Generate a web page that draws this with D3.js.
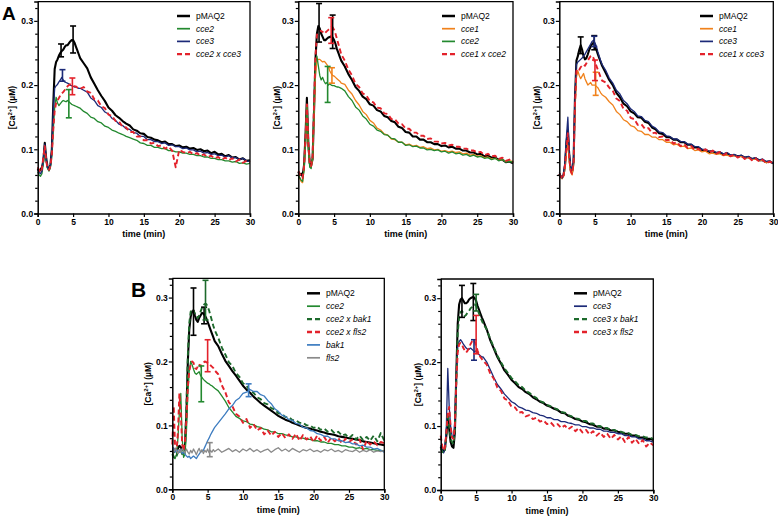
<!DOCTYPE html>
<html><head><meta charset="utf-8">
<script src="https://cdn.jsdelivr.net/npm/d3@7"></script>
<style>body{margin:0;background:#fff}svg{display:block}text{font-family:"Liberation Sans",Arial,sans-serif}</style>
</head><body><svg id="c" width="778" height="518"></svg>
<script>
// time points (min)
const times = [0,0.2,0.4,0.6,0.8,1,1.2,1.4,1.6,1.8,2,2.2,2.4,2.6,2.8,3,3.2,3.4,3.6,3.8,4,4.2,4.4,4.6,4.8,5,5.2,5.4,5.6,5.8,6,6.5,7,7.5,8,8.5,9,9.5,10,10.5,11,11.5,12,12.5,13,13.5,14,14.5,15,15.5,16,16.5,17,17.5,18,18.5,19,19.5,20,20.5,21,21.5,22,22.5,23,23.5,24,24.5,25,25.5,26,26.5,27,27.5,28,28.5,29,29.5,30];

// Panel A1
const a1_pMAQ2 = [.070,.066,.068,.072,.082,.110,.086,.072,.068,.076,.100,.170,.225,.236,.240,.246,.250,.253,.255,.259,.262,.262,.265,.268,.270,.270,.266,.260,.254,.248,.242,
 .234,.226,.212,.202,.192,.183,.175,.165,.160,.153,.149,.144,.140,.137,.131,.129,.125,.124,.119,.118,.115,.114,.111,.112,.108,.108,.105,.106,.103,.104,.101,.102,.099,.100,.097,.098,.094,.096,.092,.093,.089,.091,.087,.088,.084,.086,.082,.083];
const a1_cce2 = [.065,.060,.058,.062,.078,.104,.082,.070,.066,.072,.090,.130,.165,.181,.172,.168,.171,.174,.176,.175,.174,.176,.174,.172,.170,.169,.168,.167,.166,.165,.164,
 .159,.156,.150,.148,.143,.141,.136,.134,.130,.128,.125,.123,.120,.118,.116,.114,.110,.109,.106,.106,.103,.103,.101,.101,.098,.098,.096,.096,.094,.094,.092,.092,.090,.090,.088,.088,.086,.086,.084,.084,.082,.082,.080,.081,.078,.079,.077,.078];
const a1_cce3 = [.068,.064,.062,.066,.085,.108,.084,.072,.068,.076,.100,.160,.195,.199,.201,.205,.208,.212,.208,.205,.204,.203,.202,.200,.199,.198,.197,.197,.196,.195,.195,
 .192,.189,.180,.176,.168,.165,.158,.155,.148,.145,.139,.137,.132,.131,.126,.125,.120,.120,.115,.115,.112,.112,.109,.110,.106,.107,.104,.104,.101,.102,.099,.099,.096,.097,.094,.095,.092,.093,.090,.091,.088,.090,.087,.087,.084,.086,.082,.081];
const a1_cce2xcce3 = [.072,.068,.064,.070,.088,.105,.082,.070,.068,.074,.092,.130,.160,.172,.176,.180,.184,.187,.189,.192,.196,.198,.200,.201,.200,.199,.198,.198,.196,.195,.194,
 .197,.190,.188,.178,.176,.167,.164,.154,.152,.144,.143,.135,.134,.127,.127,.120,.120,.114,.114,.109,.110,.105,.106,.101,.104,.098,.072,.099,.096,.094,.096,.092,.094,.090,.092,.088,.090,.086,.088,.084,.087,.083,.086,.081,.084,.079,.082,.080];

// Panel A2
const a2_pMAQ2 = [.065,.060,.062,.058,.075,.120,.180,.110,.078,.075,.085,.160,.240,.280,.292,.288,.280,.275,.270,.270,.272,.274,.275,.276,.274,.270,.264,.256,.250,.244,.238,
 .229,.217,.208,.197,.191,.182,.178,.170,.168,.161,.159,.152,.150,.144,.142,.135,.133,.127,.126,.120,.120,.115,.115,.111,.111,.108,.108,.105,.106,.103,.104,.101,.101,.098,.098,.095,.095,.092,.093,.089,.090,.087,.087,.084,.084,.080,.081,.078];
const a2_cce1 = [.062,.055,.050,.048,.070,.110,.170,.105,.075,.072,.085,.150,.215,.238,.240,.240,.238,.236,.237,.235,.232,.228,.222,.218,.215,.214,.212,.210,.208,.206,.203,
 .201,.192,.186,.176,.169,.159,.154,.145,.141,.133,.130,.124,.122,.116,.115,.111,.111,.107,.108,.105,.106,.103,.104,.101,.102,.099,.100,.097,.098,.096,.097,.095,.096,.093,.094,.091,.092,.089,.090,.087,.088,.085,.086,.083,.084,.081,.082,.081];
const a2_cce2 = [.060,.056,.052,.050,.068,.105,.165,.100,.072,.070,.090,.170,.235,.245,.230,.215,.208,.212,.206,.202,.204,.200,.202,.200,.199,.199,.198,.197,.197,.196,.195,
 .191,.182,.176,.166,.161,.152,.147,.139,.136,.130,.128,.123,.122,.117,.116,.111,.111,.106,.107,.104,.105,.102,.102,.099,.100,.098,.099,.096,.097,.094,.096,.093,.094,.091,.092,.089,.091,.088,.089,.086,.087,.084,.086,.082,.084,.080,.081,.080];
const a2_cce1xcce2 = [.066,.062,.058,.055,.072,.115,.170,.110,.078,.074,.090,.170,.245,.278,.282,.285,.284,.283,.280,.282,.284,.286,.288,.290,.290,.286,.280,.272,.264,.256,.248,
 .238,.224,.215,.202,.197,.187,.184,.175,.173,.165,.164,.156,.155,.147,.147,.140,.139,.132,.132,.126,.126,.121,.121,.116,.117,.112,.112,.109,.110,.106,.107,.104,.104,.101,.101,.098,.098,.095,.096,.091,.093,.089,.090,.085,.087,.082,.084,.080];

// Panel A3
const a3_pMAQ2 = [.062,.058,.056,.060,.075,.110,.130,.090,.068,.065,.080,.180,.238,.245,.255,.262,.255,.245,.240,.242,.248,.255,.260,.264,.266,.262,.255,.248,.242,.236,.230,
 .219,.208,.200,.188,.181,.171,.167,.159,.156,.150,.149,.143,.141,.134,.131,.125,.124,.119,.119,.115,.115,.111,.111,.107,.107,.103,.103,.099,.099,.096,.097,.094,.095,.092,.094,.090,.091,.089,.090,.087,.088,.085,.086,.083,.083,.080,.081,.078];
const a3_cce1 = [.060,.056,.054,.058,.070,.095,.110,.080,.064,.060,.075,.160,.212,.222,.215,.210,.214,.218,.210,.205,.200,.202,.204,.200,.200,.200,.198,.196,.192,.188,.185,
 .181,.174,.169,.159,.154,.146,.143,.137,.135,.129,.128,.123,.123,.119,.119,.115,.115,.111,.111,.107,.108,.104,.105,.101,.102,.098,.099,.096,.097,.093,.094,.092,.093,.090,.091,.089,.090,.088,.089,.086,.087,.084,.085,.082,.083,.079,.081,.079];
const a3_cce3 = [.064,.058,.055,.062,.080,.120,.150,.095,.072,.068,.085,.180,.232,.236,.238,.240,.242,.245,.248,.252,.256,.260,.264,.268,.270,.266,.260,.252,.245,.238,.232,
 .223,.211,.203,.192,.186,.176,.171,.163,.159,.152,.151,.145,.143,.136,.133,.127,.126,.121,.120,.116,.116,.112,.112,.108,.108,.104,.104,.100,.100,.097,.098,.095,.096,.093,.095,.091,.092,.089,.091,.087,.089,.085,.087,.083,.085,.081,.082,.078];
const a3_cce1xcce3 = [.062,.058,.054,.060,.075,.100,.125,.085,.066,.062,.078,.170,.222,.226,.224,.228,.230,.232,.230,.234,.238,.242,.245,.246,.242,.236,.230,.224,.218,.212,.207,
 .204,.196,.191,.179,.175,.163,.160,.149,.147,.138,.139,.132,.133,.125,.126,.119,.120,.114,.115,.109,.111,.105,.108,.102,.105,.099,.101,.097,.100,.095,.098,.093,.096,.091,.094,.089,.092,.087,.090,.085,.088,.083,.086,.081,.084,.078,.081,.078];

// Panel B1
const b1_pMAQ2 = [.060,.058,.062,.060,.064,.068,.066,.062,.064,.070,.120,.200,.250,.270,.278,.280,.272,.265,.262,.268,.272,.276,.275,.272,.268,.262,.256,.250,.244,.238,.232,
 .224,.212,.201,.193,.185,.178,.170,.162,.156,.151,.145,.140,.135,.131,.127,.123,.119,.115,.112,.109,.107,.104,.102,.100,.098,.096,.095,.093,.092,.090,.089,.087,.086,.085,.083,.082,.081,.080,.079,.078,.077,.075,.074,.073,.072,.071,.070,.069];
const b1_cce2 = [.060,.052,.048,.055,.080,.120,.150,.080,.050,.055,.090,.150,.185,.200,.195,.188,.182,.180,.182,.184,.178,.175,.172,.170,.168,.166,.165,.163,.162,.160,.158,
 .154,.146,.138,.128,.121,.114,.111,.107,.106,.102,.101,.098,.097,.094,.093,.090,.090,.087,.087,.085,.084,.082,.082,.080,.080,.078,.078,.076,.076,.074,.074,.072,.072,.070,.070,.068,.068,.066,.066,.064,.065,.063,.064,.062,.062,.061,.061,.060];
const b1_cce2xbak1 = [.055,.050,.048,.052,.058,.062,.060,.055,.058,.070,.130,.210,.260,.278,.282,.280,.275,.270,.268,.272,.278,.284,.288,.290,.290,.286,.280,.272,.264,.256,.249,
 .237,.222,.211,.199,.193,.182,.176,.166,.162,.154,.151,.144,.141,.135,.133,.127,.125,.119,.118,.113,.113,.108,.108,.104,.104,.100,.100,.096,.098,.093,.095,.090,.093,.087,.090,.084,.086,.080,.085,.078,.084,.077,.082,.076,.084,.075,.088,.076];
const b1_cce2xfls2 = [.070,.130,.065,.060,.090,.150,.120,.070,.060,.075,.110,.160,.185,.195,.200,.198,.190,.188,.192,.196,.192,.196,.198,.200,.199,.198,.196,.194,.192,.190,.186,
 .180,.163,.152,.136,.130,.118,.114,.104,.110,.096,.102,.092,.096,.086,.092,.084,.090,.082,.088,.080,.086,.079,.087,.076,.085,.078,.083,.074,.084,.076,.082,.073,.081,.075,.080,.072,.079,.074,.078,.070,.078,.062,.076,.070,.075,.069,.074,.072];
const b1_bak1 = [.060,.065,.058,.062,.060,.058,.062,.056,.058,.055,.052,.050,.052,.048,.050,.052,.050,.048,.052,.055,.058,.060,.061,.066,.071,.076,.080,.085,.089,.093,.097,
 .104,.111,.118,.126,.131,.139,.143,.150,.152,.156,.153,.153,.148,.146,.139,.134,.126,.122,.116,.114,.109,.108,.103,.102,.097,.096,.092,.091,.087,.086,.083,.083,.079,.079,.076,.076,.073,.074,.071,.071,.068,.069,.066,.066,.063,.064,.061,.058];
const b1_fls2 = [.062,.058,.064,.060,.056,.062,.058,.064,.060,.057,.063,.058,.055,.061,.057,.063,.059,.054,.060,.064,.058,.062,.056,.061,.058,.063,.057,.061,.058,.062,.059,
 .063,.058,.061,.064,.059,.062,.058,.063,.060,.064,.059,.062,.058,.061,.063,.058,.062,.065,.060,.063,.059,.064,.061,.058,.062,.060,.063,.059,.061,.058,.062,.060,.063,.059,.061,.058,.062,.060,.059,.062,.058,.061,.059,.062,.058,.060,.059,.061];

// Panel B2
const b2_pMAQ2 = [.068,.062,.060,.065,.085,.115,.095,.075,.068,.066,.090,.180,.260,.290,.298,.300,.296,.292,.292,.294,.298,.300,.301,.302,.300,.296,.288,.282,.276,.270,.265,
 .251,.234,.221,.208,.198,.187,.180,.172,.167,.161,.158,.153,.150,.145,.142,.138,.136,.132,.130,.127,.125,.121,.120,.116,.114,.111,.110,.107,.106,.103,.102,.099,.099,.096,.096,.093,.093,.091,.090,.088,.088,.085,.085,.082,.082,.080,.080,.078];
const b2_cce3 = [.070,.062,.058,.064,.100,.190,.130,.100,.085,.080,.110,.180,.225,.232,.235,.232,.228,.225,.222,.220,.220,.222,.220,.218,.216,.218,.214,.212,.210,.208,.208,
 .200,.188,.176,.165,.158,.150,.144,.138,.135,.130,.128,.125,.124,.121,.120,.117,.116,.113,.113,.110,.110,.107,.107,.105,.104,.102,.102,.099,.099,.097,.097,.095,.095,.092,.092,.090,.090,.088,.088,.085,.085,.083,.083,.080,.080,.077,.077,.075];
const b2_cce3xbak1 = [.065,.060,.058,.062,.085,.120,.100,.080,.075,.072,.095,.170,.245,.270,.278,.280,.276,.272,.274,.278,.280,.284,.286,.288,.290,.288,.282,.276,.270,.265,.260,
 .251,.236,.223,.210,.200,.190,.183,.175,.170,.164,.161,.155,.152,.147,.144,.139,.137,.133,.131,.128,.126,.122,.121,.117,.115,.112,.111,.108,.108,.104,.104,.100,.100,.097,.097,.094,.094,.091,.091,.089,.089,.086,.086,.084,.084,.082,.082,.080];
const b2_cce3xfls2 = [.085,.070,.062,.066,.090,.120,.130,.100,.082,.080,.100,.170,.215,.228,.230,.228,.222,.218,.215,.218,.222,.228,.232,.235,.232,.226,.218,.212,.208,.205,.202,
 .196,.182,.174,.160,.155,.143,.140,.130,.129,.121,.122,.115,.117,.111,.113,.107,.109,.103,.106,.100,.103,.097,.101,.095,.099,.092,.097,.090,.094,.087,.092,.085,.090,.083,.088,.080,.086,.079,.084,.075,.083,.074,.080,.072,.078,.068,.074,.070];

// Error bars: [series, time, mean, sem]
const errA1 = [["pMAQ2",3.3,.254,.010],["pMAQ2",5.0,.271,.021],["cce2",4.4,.171,.022],["cce3",3.5,.215,.009],["cce2 x cce3",4.9,.198,.013]];
const errA2 = [["pMAQ2",2.9,.297,.030],["pMAQ2",4.8,.283,.026],["cce1",4.7,.215,.012],["cce2",4.1,.201,.028],["cce1 x cce2",4.6,.285,.020]];
const errA3 = [["pMAQ2",3.0,.262,.013],["pMAQ2",4.9,.266,.011],["cce1",5.1,.202,.018],["cce3",4.9,.268,.008],["cce1 x cce3",5.0,.223,.016]];
const errB1 = [["pMAQ2",3.0,.278,.037],["pMAQ2",4.5,.272,.013],["cce2",4.1,.165,.028],["cce2 x bak1",4.7,.296,.031],["cce2 x fls2",5.0,.209,.025],["bak1",10.8,.155,.010],["fls2",5.3,.062,.011]];
const errB2 = [["pMAQ2",3.0,.295,.025],["pMAQ2",4.6,.294,.029],["cce3",4.7,.219,.016],["cce3 x bak1",5.0,.293,.013],["cce3 x fls2",5.0,.243,.030]];

const yTicks = [0,0.1,0.2,0.3];
const yMinorTicks = [0.02,0.04,0.06,0.08,0.12,0.14,0.16,0.18,0.22,0.24,0.26,0.28,0.32];
const xTicks = [0,5,10,15,20,25,30];

const C = {black:"#000000", green:"#23892f", dkgreen:"#1d6a2c", navy:"#1c2a78", red:"#e3222b", orange:"#f0821c", blue:"#3d7cc0", grey:"#8a8a8a"};

const panels = [
 {letter:"A", lp:[2,20,19], box:{l:37.7,r:250,t:1.6,b:213.5}, ylab:12, leg:{x:177,y:16,dy:12.7}, errs:errA1,
  series:[["pMAQ2",a1_pMAQ2,C.black],["cce2",a1_cce2,C.green],["cce3",a1_cce3,C.navy],["cce2 x cce3",a1_cce2xcce3,C.red]]},
 {box:{l:298.3,r:513,t:1.6,b:213.5}, ylab:277, leg:{x:442,y:16,dy:12.7}, errs:errA2,
  series:[["pMAQ2",a2_pMAQ2,C.black],["cce1",a2_cce1,C.orange],["cce2",a2_cce2,C.green],["cce1 x cce2",a2_cce1xcce2,C.red]]},
 {box:{l:559.3,r:773.3,t:1.6,b:213.5}, ylab:537, leg:{x:700,y:16,dy:12.7}, errs:errA3,
  series:[["pMAQ2",a3_pMAQ2,C.black],["cce1",a3_cce1,C.orange],["cce3",a3_cce3,C.navy],["cce1 x cce3",a3_cce1xcce3,C.red]]},
 {letter:"B", lp:[131,296.7,21], box:{l:172.3,r:384.3,t:278.4,b:489.3}, ylab:148, leg:{x:307,y:293.3,dy:12.9}, errs:errB1,
  series:[["pMAQ2",b1_pMAQ2,C.black],["cce2",b1_cce2,C.green],["cce2 x bak1",b1_cce2xbak1,C.dkgreen],["cce2 x fls2",b1_cce2xfls2,C.red],["bak1",b1_bak1,C.blue],["fls2",b1_fls2,C.grey]]},
 {box:{l:440.7,r:653.3,t:279,b:490}, ylab:418, leg:{x:574,y:293.3,dy:12.9}, errs:errB2,
  series:[["pMAQ2",b2_pMAQ2,C.black],["cce3",b2_cce3,C.navy],["cce3 x bak1",b2_cce3xbak1,C.dkgreen],["cce3 x fls2",b2_cce3xfls2,C.red]]}
];

const svg = d3.select("#c");
svg.append("rect").attr("width",778).attr("height",518).attr("fill","#fff");

function styleOf(name){
  if (name === "pMAQ2") return {w:2.1, dash:null};
  if (name.includes(" x ")) return {w:1.9, dash:"5,3"};
  return {w:1.3, dash:null};
}

panels.forEach(p => {
  const b = p.box;
  const x = d3.scaleLinear().domain([0,30]).range([b.l,b.r]);
  const y = d3.scaleLinear().domain([0,0.33]).range([b.b,b.t]);
  const g = svg.append("g");

  // lines
  const line = d3.line().x((d,i)=>x(times[i])).y(d=>y(d));
  p.series.forEach(([name, vals, col]) => {
    const st = styleOf(name);
    g.append("path").datum(vals).attr("d", line).attr("fill","none")
      .attr("stroke", col).attr("stroke-width", st.w).attr("stroke-linejoin","round")
      .attr("stroke-dasharray", st.dash);
  });
  // error bars
  p.errs.forEach(([name,t,m,e]) => {
    const col = p.series.find(s=>s[0]===name)[2];
    const eg = g.append("g").attr("stroke",col).attr("stroke-width",1.6);
    const cx = x(t);
    eg.append("line").attr("x1",cx).attr("x2",cx).attr("y1",y(m-e)).attr("y2",y(m+e));
    eg.append("line").attr("x1",cx-3).attr("x2",cx+3).attr("y1",y(m-e)).attr("y2",y(m-e));
    eg.append("line").attr("x1",cx-3).attr("x2",cx+3).attr("y1",y(m+e)).attr("y2",y(m+e));
  });

  // frame (top and right)
  g.append("path").attr("d",`M${b.l},${b.t}H${b.r}V${b.b}`).attr("fill","none").attr("stroke","#000").attr("stroke-width",1.3);

  // axes
  const yAx = g.append("g").attr("transform",`translate(${b.l},0)`)
    .call(d3.axisLeft(y).tickValues(yTicks).tickFormat(d3.format(".1f")).tickSize(3.5).tickPadding(1));
  const yMin = g.append("g").attr("transform",`translate(${b.l},0)`)
    .call(d3.axisLeft(y).tickValues(yMinorTicks).tickFormat("").tickSize(2.5));
  yMin.select(".domain").remove();
  const xAx = g.append("g").attr("transform",`translate(0,${b.b})`)
    .call(d3.axisBottom(x).tickValues(xTicks).tickFormat(d3.format("d")).tickSize(3.5).tickPadding(1.5));
  [yAx,yMin,xAx].forEach(a => {
    a.selectAll(".domain").attr("stroke-width",1.5).attr("stroke","#000");
    a.selectAll(".tick line").attr("stroke-width",1.2).attr("stroke","#000");
    a.selectAll(".tick text").attr("font-size",8.5).attr("font-weight","bold").attr("fill","#000")
      .style("font-family","'Liberation Sans',Arial,sans-serif");
  });

  // axis titles
  g.append("text").attr("x",(b.l+b.r)/2).attr("y",b.b+23.5).attr("text-anchor","middle")
    .attr("font-size",9).attr("font-weight","bold").text("time (min)");
  const yt = g.append("text").attr("transform",`translate(${p.ylab+3},${(b.t+b.b)/2}) rotate(-90)`)
    .attr("text-anchor","middle").attr("font-size",8.5).attr("font-weight","bold");
  yt.append("tspan").text("[Ca");
  yt.append("tspan").attr("font-size",6).attr("dy",-3).text("2+");
  yt.append("tspan").attr("dy",3).text("] (µM)");

  // legend
  p.series.forEach(([name,vals,col],i) => {
    const st = styleOf(name);
    const ly = p.leg.y + i*p.leg.dy;
    g.append("line").attr("x1",p.leg.x).attr("x2",p.leg.x+13).attr("y1",ly).attr("y2",ly)
      .attr("stroke",col).attr("stroke-width",st.w+0.4).attr("stroke-dasharray",st.dash);
    g.append("text").attr("x",p.leg.x+19).attr("y",ly+3).attr("font-size",8.5)
      .attr("font-style", name==="pMAQ2" ? "normal" : "italic").attr("fill","#000").text(name);
  });

  if (p.letter) {
    svg.append("text").attr("x",p.lp[0]).attr("y",p.lp[1]).attr("font-size",p.lp[2])
      .attr("font-weight","bold").text(p.letter);
  }
});
</script></body></html>
